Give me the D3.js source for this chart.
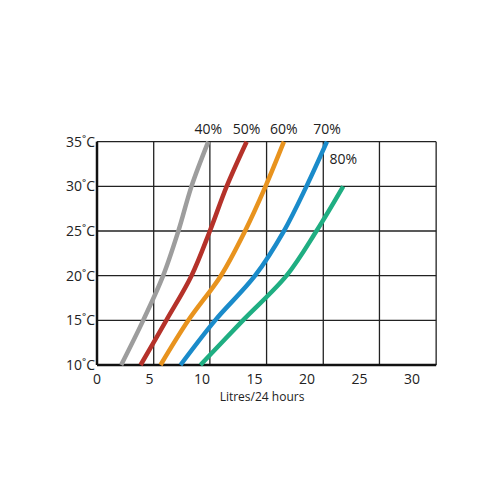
<!DOCTYPE html>
<html><head><meta charset="utf-8">
<script src="https://cdn.jsdelivr.net/npm/d3@7"></script>
<style>body{margin:0;background:#fff}text{font-family:"Open Sans",sans-serif;fill:#222}</style>
</head><body><div id="graphContainer"></div>
<script>
// temperatures (°C) at which each curve was read
let temps = [10, 15, 20, 25, 30, 35];
let rh40 = [2.3, 4.4, 6.3, 7.75, 9.0, 10.6];
let rh50 = [4.15, 6.6, 9.0, 10.75, 12.35, 14.25];
let rh60 = [6.05, 8.7, 11.8, 14.1, 16.05, 17.8];
let rh70 = [7.95, 11.25, 15.05, 17.8, 19.95, 21.9];
let rh80 = [9.85, 13.9, 18.05, 20.9, 23.45];
let seriesNames = ["40%", "50%", "60%", "70%", "80%"];
let xTicks = [0, 5, 10, 15, 20, 25, 30];
let yTicks = [10, 15, 20, 25, 30, 35];
let gridX = [0, 5.4, 10.75, 16.15, 21.55, 26.9, 32.3];

function add(){
    let width = 500, height = 500;
    let svg = d3.select("#graphContainer").append("svg")
        .attr("width", width).attr("height", height);
    return {svg, height, width};
}
let { svg } = add();

let x = d3.scaleLinear().domain([0, 10]).range([97, 202]);
let y = d3.scaleLinear().domain([10, 35]).range([365, 141.7]);
let colors = ["#9d9d9d", "#b5322a", "#e8931e", "#1a8bca", "#1fae82"];
let all = [rh40, rh50, rh60, rh70, rh80];

// grid
svg.selectAll("null").data(gridX).enter().append("line")
    .attr("x1", d => x(d)).attr("x2", d => x(d))
    .attr("y1", y(35)).attr("y2", y(10))
    .attr("stroke", "#222").attr("stroke-width", 1.3);
svg.selectAll("null").data(yTicks).enter().append("line")
    .attr("x1", x(0)).attr("x2", x(32.3))
    .attr("y1", d => y(d)).attr("y2", d => y(d))
    .attr("stroke", "#222").attr("stroke-width", 1.3);
// thick left & bottom axis
svg.append("line").attr("x1", x(0)).attr("x2", x(0)).attr("y1", y(35)).attr("y2", y(10))
    .attr("stroke", "#111").attr("stroke-width", 2.5);
svg.append("line").attr("x1", x(0)).attr("x2", x(32.3)).attr("y1", y(10)).attr("y2", y(10))
    .attr("stroke", "#111").attr("stroke-width", 2.5);

let line = d3.line().x(d => x(d[0])).y(d => y(d[1])).curve(d3.curveCatmullRom);
all.forEach((s, i) => {
    svg.append("path").datum(s.map((v, j) => [v, temps[j]]))
        .attr("d", line).attr("fill", "none")
        .attr("stroke", colors[i]).attr("stroke-width", 4.5);
    let last = s[s.length - 1];
    let t = temps[s.length - 1];
    svg.append("text").attr("x", x(last) + (i == 4 ? 0 : 0)).attr("y", y(t) - (i == 4 ? 22 : 8))
        .attr("text-anchor", "middle").attr("font-size", 14).text(seriesNames[i]);
});

svg.selectAll("null").data(xTicks).enter().append("text")
    .attr("x", d => x(d)).attr("y", 384).attr("text-anchor", "middle")
    .attr("font-size", 14).text(d => d);
svg.selectAll("null").data(yTicks).enter().append("text")
    .attr("x", 95).attr("y", d => y(d) + 5).attr("text-anchor", "end")
    .attr("font-size", 14).text(d => d + "˚C");
svg.append("text").attr("x", 262).attr("y", 401).attr("text-anchor", "middle")
    .attr("font-size", 12).text("Litres/24 hours");
</script></body></html>
